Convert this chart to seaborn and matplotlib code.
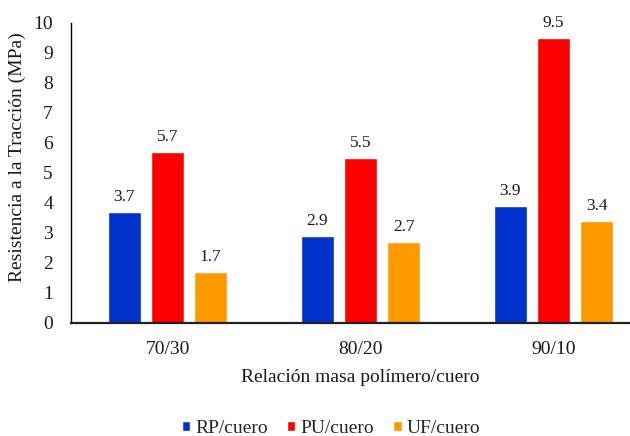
import matplotlib
matplotlib.use("Agg")
import matplotlib.pyplot as plt
import seaborn as sns
import pandas as pd

# Tensile strength by polymer/leather mass ratio
ratios = ["70/30", "80/20", "90/10"]
series = ["RP/cuero", "PU/cuero", "UF/cuero"]
rp_values = [3.7, 2.9, 3.9]
pu_values = [5.7, 5.5, 9.5]
uf_values = [1.7, 2.7, 3.4]
yticks = [0, 1, 2, 3, 4, 5, 6, 7, 8, 9, 10]

colors = ["#0033CC", "#FF0000", "#FF9900"]

df = pd.DataFrame({
    "ratio": ratios * 3,
    "serie": [s for s in series for _ in ratios],
    "valor": rp_values + pu_values + uf_values,
})

sns.set_style("white")
plt.rcParams["font.family"] = ["Liberation Serif", "DejaVu Serif"]

fig = plt.figure(figsize=(6.3, 4.36), dpi=100)
ax = fig.add_axes([0.1127, 0.2592, 0.9190, 0.6888])

sns.barplot(data=df, x="ratio", y="valor", hue="serie", order=ratios,
            hue_order=series, palette=colors, width=0.67, gap=0.23,
            saturation=1, errorbar=None, ax=ax, legend=True)

for container in ax.containers:
    ax.bar_label(container, labels=[f"{v:.1f}" for v in container.datavalues],
                 padding=5, fontsize=12.5, color="#1a1a1a")

ax.set_xlim(-0.5, 2.5)
ax.set_ylim(0, 10)
ax.set_yticks(yticks)
ax.tick_params(axis="both", length=0, labelsize=14, colors="#1a1a1a")
ax.tick_params(axis="x", pad=13)
ax.tick_params(axis="y", pad=13)

for side in ["top", "right"]:
    ax.spines[side].set_visible(False)
ax.spines["left"].set_color("#000000")
ax.spines["left"].set_linewidth(1.0)
ax.spines["bottom"].set_color("#222222")
ax.spines["bottom"].set_linewidth(1.6)

ax.set_xlabel("Relación masa polímero/cuero", fontsize=14, color="#1a1a1a", labelpad=8)
ax.set_ylabel("Resistencia a la Tracción (MPa)", fontsize=14, color="#1a1a1a")
ax.yaxis.set_label_coords(-0.078, 0.551)

handles, labels = ax.get_legend_handles_labels()
ax.get_legend().remove()
fig.legend(handles, labels, loc="center", bbox_to_anchor=(331 / 630, 1 - 428 / 436),
           ncol=3, frameon=False, fontsize=14, handlelength=0.42, handleheight=0.42,
           handletextpad=0.26, columnspacing=1.0, borderaxespad=0)

fig.savefig("out.png", dpi=100)
